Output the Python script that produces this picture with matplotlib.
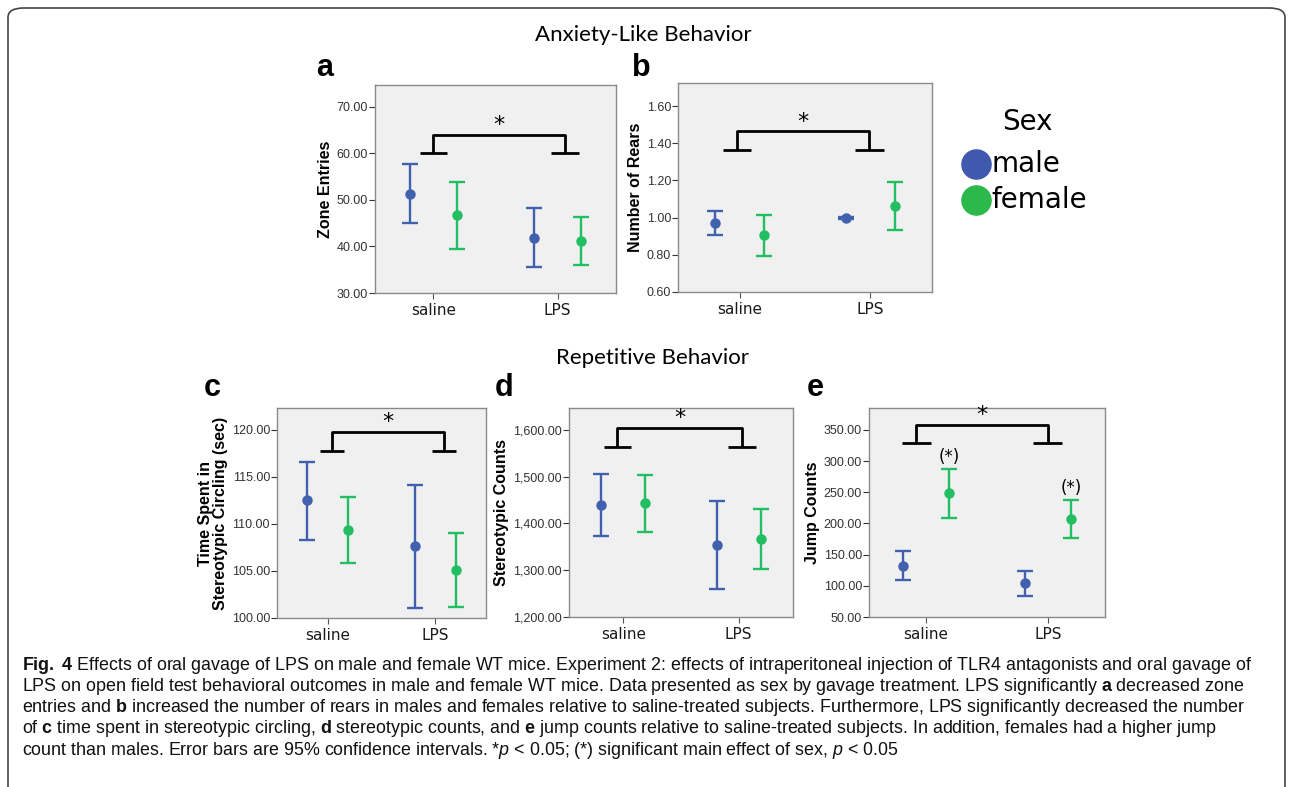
import matplotlib
matplotlib.use("Agg")
import matplotlib.pyplot as plt
from matplotlib.lines import Line2D
from matplotlib.patches import FancyBboxPatch
from matplotlib.ticker import FuncFormatter

plt.rcParams["mathtext.fontset"] = "custom"
plt.rcParams["mathtext.rm"] = "Liberation Sans"
plt.rcParams["mathtext.it"] = "Liberation Sans:italic"
plt.rcParams["mathtext.bf"] = "Liberation Sans:bold"

# ---- data: (mean, lower 95% CI, upper 95% CI) for saline, LPS ----
categories = ["saline", "LPS"]
sexes = ["male", "female"]

zone_male = [(51.3, 45.0, 57.7), (41.9, 35.5, 48.3)]
zone_female = [(46.7, 39.5, 53.9), (41.2, 36.1, 46.3)]

rears_male = [(0.970, 0.905, 1.035), (1.000, 0.995, 1.005)]
rears_female = [(0.905, 0.795, 1.015), (1.063, 0.935, 1.190)]

circ_male = [(112.5, 108.3, 116.6), (107.6, 101.1, 114.1)]
circ_female = [(109.3, 105.8, 112.9), (105.1, 101.2, 109.0)]

stereo_male = [(1439, 1373, 1506), (1354, 1259, 1449)]
stereo_female = [(1443, 1382, 1503), (1367, 1303, 1431)]

jump_male = [(132, 110, 155), (104, 84, 123)]
jump_female = [(248, 209, 287), (207, 177, 237)]

male_color = "#4160AE"
female_color = "#22BE62"

W, H = 1292, 787
fig = plt.figure(figsize=(W / 100, H / 100), dpi=100)


def px_rect(left, right, top, bottom):
    return [left / W, 1 - bottom / H, (right - left) / W, (bottom - top) / H]


def draw_panel(box, male, female, ylim, yticks, ylabel, bracket, star_y, letter, letter_xy):
    ax = fig.add_axes(px_rect(*box))
    ax.set_facecolor("#F0F0F0")
    for s in ax.spines.values():
        s.set_color("#8A8A8A")
        s.set_linewidth(1.0)
    off = 0.19
    for vals, col, dx in [(male, male_color, -off), (female, female_color, off)]:
        xs = [i + dx for i in range(len(categories))]
        m = [v[0] for v in vals]
        lo = [v[0] - v[1] for v in vals]
        hi = [v[2] - v[0] for v in vals]
        ax.errorbar(xs, m, yerr=[lo, hi], fmt="o", color=col, ecolor=col,
                    markersize=6.5, elinewidth=1.7, capsize=5.5, capthick=1.7,
                    zorder=3)
    ax.set_xlim(-0.47, 1.47)
    ax.set_ylim(*ylim)
    ax.set_yticks(yticks)
    ax.yaxis.set_major_formatter(FuncFormatter(lambda v, p: f"{v:,.2f}"))
    for t in ax.get_yticklabels():
        t.set_family("Liberation Sans")
    ax.set_xticks(range(len(categories)))
    ax.set_xticklabels(categories, fontsize=11, color="#1A1A1A")
    ax.tick_params(axis="y", labelsize=9, colors="#333333", length=4, width=0.8, pad=1)
    ax.tick_params(axis="x", length=4, width=0.8, colors="#555555", labelcolor="#1A1A1A", pad=3)
    ax.set_ylabel(ylabel, fontsize=11.5, fontweight="bold", family="Liberation Sans",
                  labelpad=3, linespacing=1.0)

    # significance bracket
    xl, xr, foot, top, w = bracket
    kw = dict(color="black", lw=2.0, clip_on=False, solid_capstyle="butt", zorder=4)
    ax.plot([xl - w, xl + w], [foot, foot], **kw)
    ax.plot([xr - w, xr + w], [foot, foot], **kw)
    ax.plot([xl, xl, xr, xr], [foot, top, top, foot], solid_joinstyle="round", **kw)
    ax.text((xl + xr) / 2, star_y, "*", ha="center", va="center", fontsize=16)

    fig.text(letter_xy[0] / W, 1 - letter_xy[1] / H, letter, fontsize=22,
             fontweight="bold", family="Liberation Sans", va="baseline")
    return ax


draw_panel((375, 616, 85, 293), zone_male, zone_female, (30, 74.7),
           [30, 40, 50, 60, 70], "Zone Entries",
           (0.0, 1.06, 60.0, 64.0, 0.11), 66.0, "a", (316, 76))

draw_panel((678, 932, 83, 292), rears_male, rears_female, (0.6, 1.724),
           [0.6, 0.8, 1.0, 1.2, 1.4, 1.6], "Number of Rears",
           (-0.02, 0.99, 1.362, 1.465, 0.11), 1.515, "b", (632, 76))

draw_panel((277, 486, 408, 618), circ_male, circ_female, (100, 122.3),
           [100, 105, 110, 115, 120], "Time Spent in\nStereotypic Circling (sec)",
           (0.04, 1.08, 117.7, 119.7, 0.11), 120.8, "c", (204, 396))

draw_panel((569, 793, 408, 617), stereo_male, stereo_female, (1200, 1647),
           [1200, 1300, 1400, 1500, 1600], "Stereotypic Counts",
           (-0.05, 1.03, 1564, 1604, 0.12), 1625, "d", (495, 396))

ax_e = draw_panel((869, 1105, 408, 617), jump_male, jump_female, (50, 385),
                  [50, 100, 150, 200, 250, 300, 350], "Jump Counts",
                  (-0.08, 1.0, 329, 358, 0.12), 374, "e", (807, 396))

# main effect of sex markers above female bars
for i, v in enumerate(jump_female):
    ax_e.text(i + 0.19, v[2] + 20, "(*)", ha="center", va="center", fontsize=12)

# section titles
fig.text(643 / W, 1 - 35 / H, "Anxiety-Like Behavior", ha="center", va="center",
         fontsize=16, family="Lato")
fig.text(653 / W, 1 - 358 / H, "Repetitive Behavior", ha="center", va="center",
         fontsize=16, family="Lato")

# legend
fig.text(1027 / W, 1 - 122 / H, "Sex", ha="center", va="center", fontsize=20)
for label, col, y in [("male", "#3F59AE", 164), ("female", "#2DB84B", 200)]:
    fig.add_artist(Line2D([976 / W], [1 - y / H], marker="o", markersize=21,
                          color=col, transform=fig.transFigure))
    fig.text(991 / W, 1 - y / H, label, ha="left", va="center", fontsize=20)

# outer border
fig.add_artist(FancyBboxPatch((8 / W, -0.1), 1277 / W, 1.1 - 8 / H,
                              boxstyle="round,pad=0,rounding_size=0.012",
                              transform=fig.transFigure, fill=False,
                              edgecolor="#444444", lw=1.2))

# caption
caption = [
    r"$\mathbf{Fig.\ 4}$ Effects of oral gavage of LPS on male and female WT mice. Experiment 2: effects of intraperitoneal injection of TLR4 antagonists and oral gavage of",
    r"LPS on open field test behavioral outcomes in male and female WT mice. Data presented as sex by gavage treatment. LPS significantly $\mathbf{a}$ decreased zone",
    r"entries and $\mathbf{b}$ increased the number of rears in males and females relative to saline-treated subjects. Furthermore, LPS significantly decreased the number",
    r"of $\mathbf{c}$ time spent in stereotypic circling, $\mathbf{d}$ stereotypic counts, and $\mathbf{e}$ jump counts relative to saline-treated subjects. In addition, females had a higher jump",
    r"count than males. Error bars are 95% confidence intervals. *$\mathit{p}$ < 0.05; (*) significant main effect of sex, $\mathit{p}$ < 0.05",
]
for k, line in enumerate(caption):
    fig.text(22 / W, 1 - (665 + 21.3 * k) / H, line, ha="left", va="center",
             fontsize=12.9, family="Liberation Sans", color="#111111")

fig.savefig("out.png", dpi=100)
